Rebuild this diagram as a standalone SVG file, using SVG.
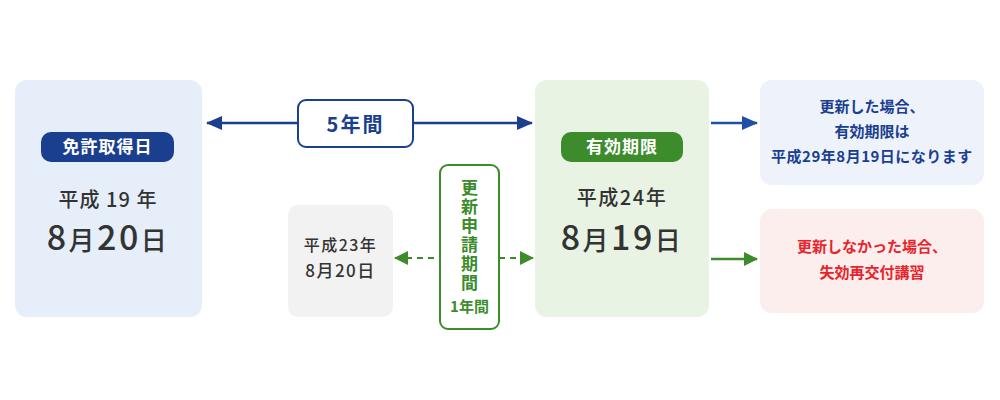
<svg xmlns="http://www.w3.org/2000/svg" width="1000" height="400" viewBox="0 0 1000 400">
<defs>
<style>
text{font-family:"Noto Sans CJK JP","Noto Sans",sans-serif;text-anchor:middle}
.dark{fill:#333333;font-weight:500}
.badge{fill:#ffffff;font-weight:700;font-size:17px;letter-spacing:1px}
.navy{fill:#1b3f8f;font-weight:700}
.green{fill:#3c8c2c;font-weight:700}
.red{fill:#e8232a;font-weight:700}
.big{font-size:34px;letter-spacing:2.5px}
.big tspan.k{font-size:26px}
</style>
<marker id="ahNavy" viewBox="0 0 16 14" refX="15" refY="7" markerWidth="16" markerHeight="14" markerUnits="userSpaceOnUse" orient="auto-start-reverse">
<path d="M0,0 L16,7 L0,14 Z" fill="#1b3f8f"/>
</marker>
<marker id="ahBlue" viewBox="0 0 16 14" refX="15" refY="7" markerWidth="16" markerHeight="14" markerUnits="userSpaceOnUse" orient="auto">
<path d="M0,0 L16,7 L0,14 Z" fill="#1f4fa8"/>
</marker>
<marker id="ahGreen" viewBox="0 0 14 14" refX="13" refY="7" markerWidth="14" markerHeight="14" markerUnits="userSpaceOnUse" orient="auto-start-reverse">
<path d="M0,0 L14,7 L0,14 Z" fill="#3c8c2c"/>
</marker>
</defs>
<rect width="1000" height="400" fill="#ffffff"/>

<g id="connectors">
<line x1="207" y1="123" x2="298" y2="123" stroke="#1b3f8f" stroke-width="2.5" marker-start="url(#ahNavy)"/>
<line x1="413" y1="123" x2="532" y2="123" stroke="#1b3f8f" stroke-width="2.5" marker-end="url(#ahNavy)"/>
<line x1="395" y1="258" x2="440" y2="258" stroke="#3c8c2c" stroke-width="2" stroke-dasharray="6,5" marker-start="url(#ahGreen)"/>
<line x1="499" y1="258" x2="533" y2="258" stroke="#3c8c2c" stroke-width="2" stroke-dasharray="6,5" marker-end="url(#ahGreen)"/>
<line x1="711" y1="123" x2="757" y2="123" stroke="#1f4fa8" stroke-width="2.5" marker-end="url(#ahBlue)"/>
<line x1="711" y1="259" x2="757" y2="259" stroke="#3c8c2c" stroke-width="2.5" marker-end="url(#ahGreen)"/>
</g>

<g id="node-license-date">
<rect x="15" y="80" width="187" height="237" rx="12" fill="#e6eefa"/>
<rect x="41" y="132" width="133" height="30" rx="10" fill="#1b3f8f"/>
<text x="107.5" y="153" class="badge">免許取得日</text>
<text x="108" y="207" class="dark" font-size="20" letter-spacing="1">平成 19 年</text>
<text x="108" y="250" class="dark big"><tspan>8</tspan><tspan class="k">月</tspan><tspan>20</tspan><tspan class="k">日</tspan></text>
</g>

<g id="node-five-years">
<rect x="298" y="100" width="115" height="47" rx="8" fill="#ffffff" stroke="#1b3f8f" stroke-width="2"/>
<text x="355.5" y="132" class="navy" font-size="20" letter-spacing="2">5年間</text>
</g>

<g id="node-h23">
<rect x="288" y="205" width="105" height="112" rx="10" fill="#f2f2f2"/>
<text x="340.5" y="251" class="dark" font-size="16" letter-spacing="1.5">平成23年</text>
<text x="340.5" y="277" class="dark" font-size="17" letter-spacing="1.5">8月20日</text>
</g>

<g id="node-renewal-period">
<rect x="440" y="165" width="59" height="164" rx="8" fill="#ffffff" stroke="#3c8c2c" stroke-width="2"/>
<text x="469.5" y="179" class="green" font-size="17" writing-mode="vertical-rl" letter-spacing="2" style="text-anchor:start">更新申請期間</text>
<text x="469.5" y="312" class="green" font-size="15">1年間</text>
</g>

<g id="node-expiry">
<rect x="535" y="80" width="174" height="237" rx="12" fill="#e9f3e4"/>
<rect x="561" y="132" width="122" height="30" rx="10" fill="#3c8c2c"/>
<text x="622" y="153" class="badge">有効期限</text>
<text x="622" y="205" class="dark" font-size="20" letter-spacing="1.5">平成24年</text>
<text x="622" y="250" class="dark big"><tspan>8</tspan><tspan class="k">月</tspan><tspan>19</tspan><tspan class="k">日</tspan></text>
</g>

<g id="node-renewed">
<rect x="760" y="80" width="224" height="105" rx="12" fill="#edf2fb"/>
<text x="872" y="112" class="navy" font-size="15">更新した場合、</text>
<text x="872" y="137" class="navy" font-size="15">有効期限は</text>
<text x="872" y="162" class="navy" font-size="15" letter-spacing="0.5">平成29年8月19日になります</text>
</g>

<g id="node-not-renewed">
<rect x="760" y="209" width="224" height="104" rx="12" fill="#fdeeee"/>
<text x="872" y="252" class="red" font-size="15">更新しなかった場合、</text>
<text x="872" y="278" class="red" font-size="15">失効再交付講習</text>
</g>
</svg>
